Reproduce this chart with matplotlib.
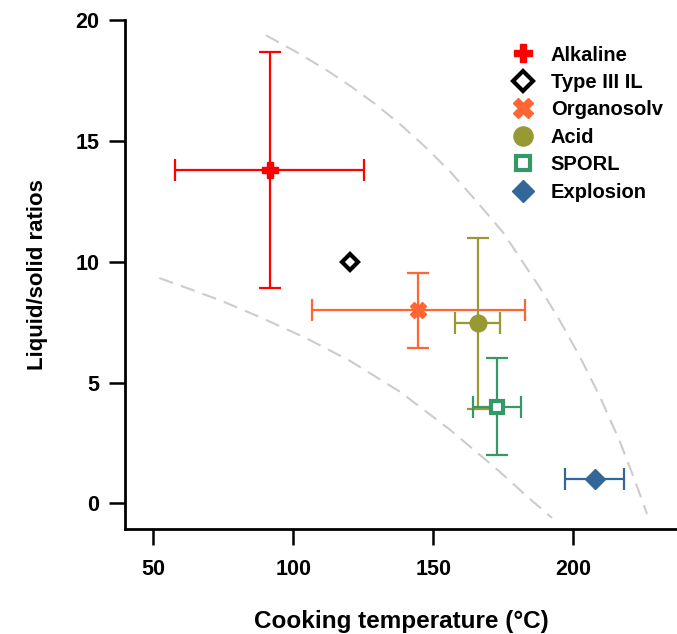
import matplotlib
matplotlib.use("Agg")
from matplotlib import pyplot as plt
from matplotlib.lines import Line2D

plt.rcParams['font.family'] = ['Liberation Sans', 'DejaVu Sans']
plt.rcParams['font.weight'] = 'bold'

# pretreatment groups: cooking temperature (deg C) and liquid/solid ratio
names = ["Alkaline", "Type III IL", "Organosolv", "Acid", "SPORL", "Explosion"]
temp = [91.5, 120.2, 144.6, 165.9, 172.7, 207.6]
temp_err = [33.8, 0, 38.0, 8.0, 8.6, 10.5]
ratio = [13.8, 10.0, 8.0, 7.45, 4.0, 1.0]
ratio_err = [4.9, 0, 1.55, 3.55, 2.0, 0]

colors = ["#FF0000", "#000000", "#FF6633", "#999933", "#339966", "#336699"]
markers = ["P", "D", "X", "o", "s", "D"]
faces = ["#FF0000", "white", "#FF6633", "#999933", "white", "#336699"]
sizes = [11, 8.5, 12, 12, 9, 10]

# guide curves
outer_x = [90.25, 101.32, 111.32, 120.25, 129.18, 138.11, 147.04, 155.96, 164.89,
           174.89, 180.96, 188.11, 195.25, 202.39, 209.54, 216.68, 222.04, 226.32]
outer_y = [19.38, 18.67, 17.98, 17.29, 16.54, 15.70, 14.77, 13.74, 12.58,
           11.22, 10.16, 8.92, 7.55, 6.06, 4.41, 2.54, 0.93, -0.44]
inner_x = [52.14, 63.11, 73.82, 88.11, 104.79, 120.25, 138.11, 155.96, 173.82, 184.54, 192.39]
inner_y = [9.33, 8.87, 8.41, 7.71, 6.83, 5.90, 4.62, 3.05, 1.30, 0.18, -0.60]

fig = plt.figure(figsize=(6.77, 6.34), dpi=100)
ax = fig.add_axes([0.1851, 0.166, 0.8148, 0.802])

ax.plot(outer_x, outer_y, color="#CCCCCC", lw=1.5, dashes=(7, 4), zorder=1)
ax.plot(inner_x, inner_y, color="#CCCCCC", lw=1.5, dashes=(7, 4), zorder=1)

handles = []
for i in range(len(names)):
    xe = temp_err[i] if temp_err[i] > 0 else None
    ye = ratio_err[i] if ratio_err[i] > 0 else None
    mew = 3 if faces[i] == "white" else 1
    if xe is not None or ye is not None:
        ax.errorbar(temp[i], ratio[i], xerr=xe, yerr=ye, fmt="none",
                    ecolor=colors[i], elinewidth=1.6, capsize=8, capthick=1.6, zorder=2)
    ax.plot(temp[i], ratio[i], marker=markers[i], ms=sizes[i], color=colors[i],
            mfc=faces[i], mec=colors[i], mew=mew, ls="none", zorder=3)
    handles.append(Line2D([], [], marker=markers[i], ms=sizes[i] * 1.15, color=colors[i],
                          mfc=faces[i], mec=colors[i], mew=mew, ls="none"))

ax.set_xlim(40, 237)
ax.set_ylim(-1.05, 20)
ax.set_xticks([50, 100, 150, 200])
ax.set_yticks([0, 5, 10, 15, 20])

for s in ["top", "right"]:
    ax.spines[s].set_visible(False)
for s in ["left", "bottom"]:
    ax.spines[s].set_linewidth(2)
ax.tick_params(axis="both", length=11.5, width=1.8, labelsize=15.5)
ax.tick_params(axis="y", pad=7)
ax.tick_params(axis="x", pad=10)

ax.set_xlabel("Cooking temperature (°C)", fontsize=17.5, fontweight="bold", labelpad=22)
ax.set_ylabel("Liquid/solid ratios", fontsize=16, fontweight="bold", labelpad=20)

ax.legend(handles, names, loc="upper right", bbox_to_anchor=(1.007, 0.986),
          frameon=False, handletextpad=0.55, labelspacing=0.42, handlelength=1.6,
          prop={"weight": "bold", "size": 14.5})

plt.savefig("out.png", dpi=100)
